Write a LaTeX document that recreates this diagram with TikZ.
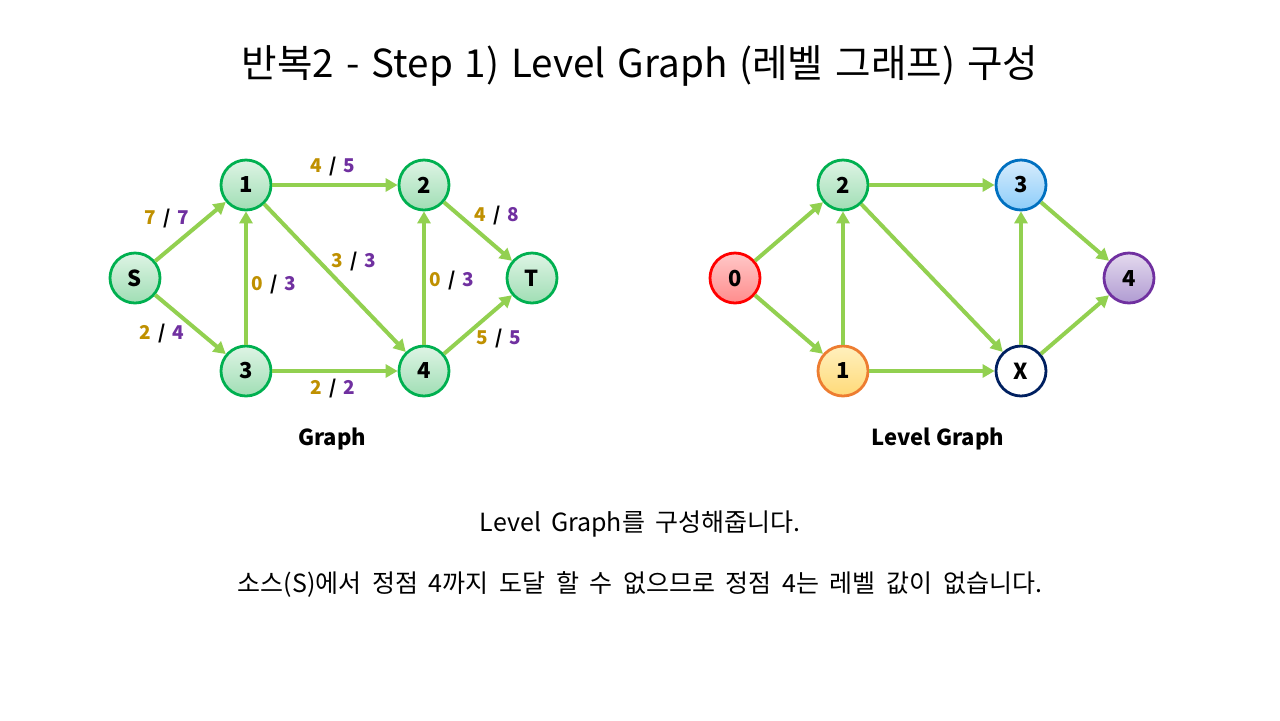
\documentclass[tikz,border=0pt]{standalone}
\usepackage{fontspec}
\setmainfont{Noto Sans CJK KR}
\usetikzlibrary{arrows.meta}
\definecolor{edgegreen}{HTML}{92D050}
\definecolor{flowgold}{HTML}{BF9000}
\definecolor{cappurple}{HTML}{7030A0}
\tikzset{
  vertex/.style={circle, line width=1.4pt, minimum size=25pt, inner sep=0pt,
    font=\fontsize{11}{12}\selectfont\bfseries},
  greenvertex/.style={vertex, draw={rgb,255:red,0;green,176;blue,80},
    top color={rgb,255:red,222;green,244;blue,229}, bottom color={rgb,255:red,160;green,222;blue,180}},
  redvertex/.style={vertex, draw=red,
    top color={rgb,255:red,255;green,200;blue,200}, bottom color={rgb,255:red,255;green,140;blue,140}},
  orangevertex/.style={vertex, draw={rgb,255:red,237;green,125;blue,49},
    top color={rgb,255:red,255;green,240;blue,190}, bottom color={rgb,255:red,255;green,218;blue,120}},
  bluevertex/.style={vertex, draw={rgb,255:red,0;green,112;blue,192},
    top color={rgb,255:red,215;green,236;blue,252}, bottom color={rgb,255:red,140;green,205;blue,250}},
  purplevertex/.style={vertex, draw=cappurple,
    top color={rgb,255:red,228;green,218;blue,238}, bottom color={rgb,255:red,176;green,155;blue,210}},
  whitevertex/.style={vertex, draw={rgb,255:red,0;green,32;blue,96}, fill=white},
  flowedge/.style={draw=edgegreen, line width=2pt, -{Triangle[length=6pt,width=6.5pt]}},
  flowlabel/.style={font=\fontsize{9.5}{10}\selectfont\bfseries, inner sep=1pt},
  caption/.style={font=\fontsize{11}{12}\selectfont\bfseries},
  note/.style={font=\fontsize{12.5}{14}\selectfont},
}
\newcommand{\fc}[2]{\textcolor{flowgold}{#1}\hspace{3.5pt}/\hspace{3.5pt}\textcolor{cappurple}{#2}}
\begin{document}
\begin{tikzpicture}[x=0.5pt,y=-0.5pt]
  \useasboundingbox [fill=white] (0,0) rectangle (1280,720);

  % Title
  \node (title) at (640,66) {\fontsize{19.3}{22}\selectfont\spaceskip=6pt 반복2 - Step 1) Level Graph (레벨 그래프) 구성};

  % Left graph: vertices
  \node [greenvertex] (s) at (135,278) {S};
  \node [greenvertex] (a) at (246,185) {1};
  \node [greenvertex] (b) at (424,185) {2};
  \node [greenvertex] (t) at (532,278) {T};
  \node [greenvertex] (c) at (246,371) {3};
  \node [greenvertex] (d) at (424,371) {4};

  % Left graph: edges
  \draw [flowedge] (s) -- (a);
  \draw [flowedge] (s) -- (c);
  \draw [flowedge] (a) -- (b);
  \draw [flowedge] (a) -- (d);
  \draw [flowedge] (c) -- (a);
  \draw [flowedge] (c) -- (d);
  \draw [flowedge] (d) -- (b);
  \draw [flowedge] (b) -- (t);
  \draw [flowedge] (d) -- (t);

  % Left graph: flow / capacity
  \node [flowlabel] (lsa) at (167,219) {\fc{7}{7}};
  \node [flowlabel] (lsc) at (162,334) {\fc{2}{4}};
  \node [flowlabel] (lab) at (333,167) {\fc{4}{5}};
  \node [flowlabel] (lca) at (274,285) {\fc{0}{3}};
  \node [flowlabel] (lad) at (354,262) {\fc{3}{3}};
  \node [flowlabel] (ldb) at (452,281) {\fc{0}{3}};
  \node [flowlabel] (lbt) at (497,216) {\fc{4}{8}};
  \node [flowlabel] (ldt) at (499,339) {\fc{5}{5}};
  \node [flowlabel] (lcd) at (333,389) {\fc{2}{2}};

  \node [caption] (gcap) at (332,439) {Graph};

  % Right graph: vertices (levels)
  \node [redvertex] (r0) at (735,278) {0};
  \node [greenvertex] (r2) at (843,185) {2};
  \node [bluevertex] (r3) at (1021,185) {3};
  \node [purplevertex] (r4) at (1129,278) {4};
  \node [orangevertex] (r1) at (843,371) {1};
  \node [whitevertex] (rx) at (1021,371) {X};

  % Right graph: edges
  \draw [flowedge] (r0) -- (r2);
  \draw [flowedge] (r0) -- (r1);
  \draw [flowedge] (r1) -- (r2);
  \draw [flowedge] (r2) -- (r3);
  \draw [flowedge] (r2) -- (rx);
  \draw [flowedge] (r1) -- (rx);
  \draw [flowedge] (rx) -- (r3);
  \draw [flowedge] (r3) -- (r4);
  \draw [flowedge] (rx) -- (r4);

  \node [caption] (lgcap) at (938,439) {Level Graph};

  % Explanation
  \node [note] (note1) at (640,524) {\spaceskip=5pt Level Graph를 구성해줍니다.};
  \node [note] (note2) at (640,584) {\spaceskip=5.3pt 소스(S)에서 정점 4까지 도달 할 수 없으므로 정점 4는 레벨 값이 없습니다.};
\end{tikzpicture}
\end{document}
